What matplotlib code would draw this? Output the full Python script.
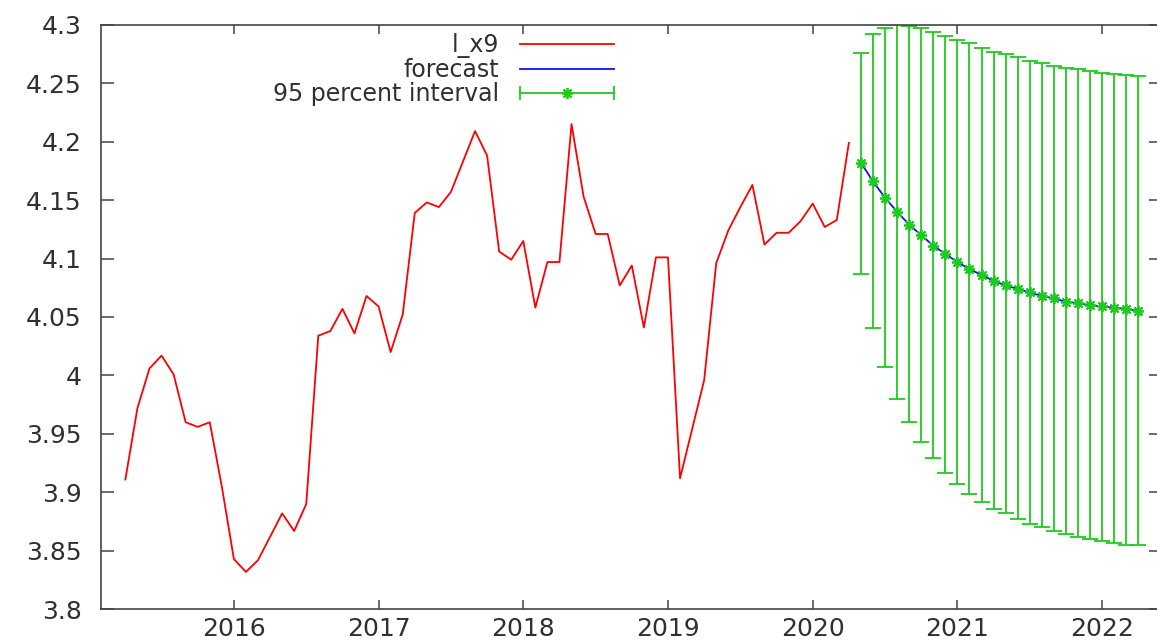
import numpy as np
import pandas as pd
import matplotlib
matplotlib.use("Agg")
import matplotlib.pyplot as plt
from matplotlib.lines import Line2D
from matplotlib.legend_handler import HandlerLine2D
from matplotlib.ticker import FuncFormatter

# observed series, monthly 2015:04 - 2020:04
actual_start, actual_end = "2015-04", "2020-04"
l_x9 = [3.911, 3.972, 4.006, 4.017, 4.001, 3.960, 3.956, 3.960, 3.905, 3.843,
        3.832, 3.842, 3.862, 3.882, 3.867, 3.890, 4.034, 4.038, 4.057, 4.036,
        4.068, 4.059, 4.020, 4.052, 4.139, 4.148, 4.144, 4.157, 4.183, 4.209,
        4.188, 4.106, 4.099, 4.115, 4.058, 4.097, 4.097, 4.215, 4.153, 4.121,
        4.121, 4.077, 4.094, 4.041, 4.101, 4.101, 3.912, 3.954, 3.996, 4.096,
        4.124, 4.144, 4.163, 4.112, 4.122, 4.122, 4.132, 4.147, 4.127, 4.133,
        4.199]

# out-of-sample forecast, 2020:05 - 2022:04
fc_start, fc_end = "2020-05", "2022-04"
forecast = [4.182, 4.166, 4.152, 4.140, 4.129, 4.120, 4.111, 4.104, 4.097, 4.091,
            4.086, 4.081, 4.077, 4.074, 4.071, 4.068, 4.066, 4.063, 4.062, 4.060,
            4.059, 4.058, 4.057, 4.055]
fc_upper = [4.276, 4.292, 4.297, 4.2995, 4.299, 4.297, 4.294, 4.290, 4.287, 4.284,
            4.280, 4.277, 4.275, 4.272, 4.269, 4.267, 4.265, 4.263, 4.262, 4.260,
            4.259, 4.258, 4.257, 4.256]
fc_lower = [4.087, 4.041, 4.007, 3.980, 3.960, 3.943, 3.929, 3.917, 3.907, 3.899,
            3.892, 3.886, 3.882, 3.877, 3.873, 3.870, 3.867, 3.864, 3.862, 3.860,
            3.858, 3.857, 3.855, 3.855]

year_ticks = [2016, 2017, 2018, 2019, 2020, 2021, 2022]
y_ticks = [3.8, 3.85, 3.9, 3.95, 4.0, 4.05, 4.1, 4.15, 4.2, 4.25, 4.3]


def decimal_years(start, end):
    p = pd.period_range(start, end, freq="M")
    return np.asarray(p.year + (p.month - 1) / 12.0, dtype=float)


t_act = decimal_years(actual_start, actual_end)
t_fc = decimal_years(fc_start, fc_end)
fc_mid = np.array(forecast)
yerr = [fc_mid - np.array(fc_lower), np.array(fc_upper) - fc_mid]

RED, BLUE, GREEN = "#ff0000", "#1010ff", "#1ccc1c"
AXC, TXT = "#444444", "#303030"
FS = 18

plt.rcParams["font.family"] = ["DejaVu Sans"]

fig = plt.figure(figsize=(11.57, 6.42), dpi=100)
W, H = 1157.0, 642.0
ax = fig.add_axes([101 / W, (H - 609.3) / H, (1162 - 101) / W, 584.6 / H])

red_line, = ax.plot(t_act, l_x9, color=RED, lw=1.3)
blue_line, = ax.plot(t_fc, fc_mid, color=BLUE, lw=1.3)
ax.errorbar(t_fc, fc_mid, yerr=yerr, fmt="none", ecolor=GREEN,
            elinewidth=1.3, capsize=5.5, capthick=1.3)
ax.plot(t_fc, fc_mid, ls="none", color=GREEN, marker=(8, 2, 0),
        markersize=8, markeredgewidth=1.3)

ax.set_xlim(2015.0817, 2022.414)
ax.set_ylim(3.8, 4.3)
ax.set_xticks(year_ticks)
ax.set_yticks(y_ticks)
ax.yaxis.set_major_formatter(FuncFormatter(lambda v, _: "%g" % v))

ax.tick_params(axis="both", direction="in", colors=AXC, labelcolor=TXT,
               labelsize=FS, width=1.1, top=True, right=True)
ax.tick_params(axis="y", length=9.4, pad=14)
ax.tick_params(axis="x", length=6.8, pad=5.5)
for s in ax.spines.values():
    s.set_color(AXC)
    s.set_linewidth(1.2)

# legend: labels right-aligned, key on the right
bar_key = Line2D([], [], color=GREEN, lw=1.3, marker="|",
                 markersize=10, markeredgewidth=1.3)
star_key = Line2D([], [], ls="none", color=GREEN, marker=(8, 2, 0),
                  markersize=8, markeredgewidth=1.3)
leg = ax.legend([red_line, blue_line, (bar_key, star_key)],
                ["l_x9", "forecast", "95 percent interval"],
                handler_map={bar_key: HandlerLine2D(numpoints=2, marker_pad=0)},
                loc="upper right", bbox_to_anchor=(0.4834, 0.985),
                frameon=False, markerfirst=False, numpoints=1,
                fontsize=17, handlelength=3.98, handletextpad=0.9,
                labelspacing=0.0, borderpad=0, borderaxespad=0)
for t in leg.get_texts():
    t.set_color(TXT)

fig.savefig("out.png", dpi=100)
